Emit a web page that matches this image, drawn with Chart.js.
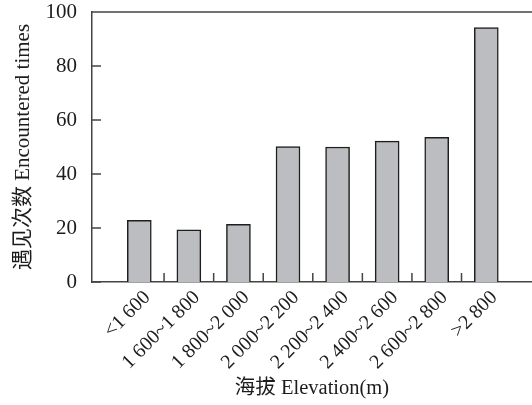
<!DOCTYPE html>
<html><head><meta charset="utf-8">
<script src="https://cdn.jsdelivr.net/npm/chart.js@4/dist/chart.umd.min.js"></script>
<style>html,body{margin:0;padding:0;background:#fff}</style>
</head><body>
<canvas id="c" width="532" height="405"></canvas>
<script>
const categories = ['<1 600', '1 600~1 800', '1 800~2 000', '2 000~2 200', '2 200~2 400', '2 400~2 600', '2 600~2 800', '>2 800'];
const encounteredTimes = [22.8, 19.3, 21.4, 50.2, 50.0, 52.2, 53.6, 94.2];
const yTicks = [0, 20, 40, 60, 80, 100];
const xAxisTitle = '海拔 Elevation(m)';
const yAxisTitle = '遇见次数 Encountered times';

const FONT = '"Liberation Serif", "Times New Roman", "Noto Sans CJK SC", serif';
const INK = '#1c1c1c';
const AXIS = '#444';

const innerTicks = {
  id: 'innerTicks',
  afterDraw(chart) {
    const ctx = chart.ctx, a = chart.chartArea;
    const xs = chart.scales.x, ys = chart.scales.y;
    ctx.save();
    ctx.strokeStyle = AXIS;
    ctx.lineWidth = 1.5;
    ctx.beginPath();
    ctx.moveTo(a.left, a.top); ctx.lineTo(a.right, a.top);
    yTicks.forEach(v => {
      const py = ys.getPixelForValue(v);
      ctx.moveTo(a.left, py); ctx.lineTo(a.left + 9, py);
    });
    for (let i = 1; i < categories.length; i++) {
      const px = xs.getPixelForValue(i + 0.5);
      ctx.moveTo(px, a.bottom); ctx.lineTo(px, a.bottom - 9);
    }
    ctx.stroke();
    ctx.restore();
  }
};

new Chart(document.getElementById('c'), {
  type: 'bar',
  data: {
    datasets: [{
      data: categories.map((c, i) => ({ x: i + 1, y: encounteredTimes[i] })),
      backgroundColor: '#bcbdc1',
      borderColor: '#1e1e1e',
      borderWidth: 1.5,
      borderSkipped: 'bottom',
      barThickness: 24
    }]
  },
  options: {
    responsive: false,
    animation: false,
    devicePixelRatio: 1,
    layout: { padding: { top: 12, right: 0, left: 11, bottom: 4 } },
    plugins: { legend: { display: false }, tooltip: { enabled: false } },
    scales: {
      x: {
        type: 'linear',
        offset: false,
        min: 0.046,
        max: 8.922,
        afterBuildTicks: s => { s.ticks = categories.map((c, i) => ({ value: i + 1 })); },
        afterFit: s => { s.paddingLeft = 0; s.paddingRight = 0; s.height = 119; },
        ticks: {
          autoSkip: false, minRotation: 45, maxRotation: 45,
          callback: v => categories[v - 1],
          labelOffset: 8,
          font: { family: FONT, size: 20 }, color: INK, padding: 4
        },
        grid: { display: false, drawTicks: false },
        border: { display: true, color: AXIS, width: 1.5 },
        title: { display: true, text: xAxisTitle, font: { family: FONT, size: 20.5 }, color: INK, padding: { top: 0, bottom: 0 } }
      },
      y: {
        min: 0, max: 100,
        afterBuildTicks: s => { s.ticks = yTicks.map(v => ({ value: v })); },
        afterFit: s => { s.paddingTop = 0; s.paddingBottom = 0; s.width = 81; },
        ticks: { font: { family: FONT, size: 21 }, color: INK, padding: 15 },
        grid: { display: false, drawTicks: false },
        border: { display: true, color: AXIS, width: 1.5 },
        title: { display: true, text: yAxisTitle, font: { family: FONT, size: 21 }, color: INK, padding: { top: 0, bottom: 10 } }
      }
    }
  },
  plugins: [innerTicks]
});
</script>
</body></html>
